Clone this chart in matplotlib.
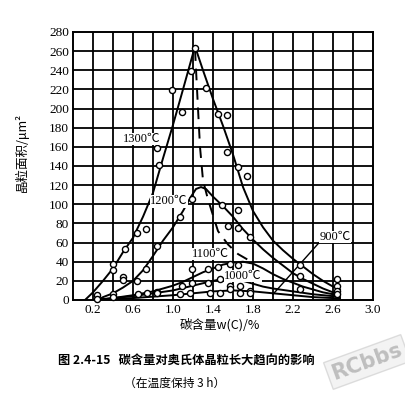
import matplotlib
matplotlib.use("Agg")
import matplotlib.pyplot as plt

# ---- data ----
x_1300 = [0.12, 0.2, 0.3, 0.4, 0.5, 0.6, 0.7, 0.8, 0.9, 1.0, 1.1, 1.22,
          1.3, 1.4, 1.5, 1.6, 1.7, 1.8, 1.9, 2.0, 2.1, 2.2, 2.3, 2.4, 2.5, 2.6, 2.67]
y_1300 = [0, 8, 20, 33, 50, 65, 87, 112, 148, 183, 220, 265,
          240, 210, 182, 152, 118, 93, 76, 62, 52, 43, 35, 27, 20, 14, 11]

x_1200 = [0.25, 0.3, 0.4, 0.5, 0.6, 0.7, 0.8, 0.9, 1.0, 1.1, 1.18, 1.23, 1.28, 1.33,
          1.4, 1.5, 1.6, 1.7, 1.8, 1.9, 2.0, 2.1, 2.2, 2.3, 2.4, 2.5, 2.6, 2.67]
y_1200 = [0, 3, 7, 13, 20, 31, 46, 62, 76, 93, 108, 116, 118, 116,
          108, 98, 87, 74, 63, 53, 44, 36, 28, 22, 17, 12, 8, 6]

x_1100 = [0.25, 0.4, 0.6, 0.8, 1.0, 1.1, 1.2, 1.3, 1.4, 1.5, 1.6, 1.7, 1.8,
          1.9, 2.0, 2.1, 2.2, 2.3, 2.4, 2.5, 2.6, 2.67]
y_1100 = [0, 2, 5, 9, 15, 19, 24, 29, 33, 37, 39, 40, 38,
          33, 27, 22, 18, 14, 11, 8, 6, 5]

x_1000 = [0.2, 0.4, 0.6, 0.8, 1.0, 1.2, 1.4, 1.5, 1.6, 1.7, 1.8, 1.9, 2.0,
          2.2, 2.4, 2.6, 2.67]
y_1000 = [0, 2, 4, 7, 10, 15, 20, 22, 22, 20, 17, 14, 12,
          9, 6, 4, 3]

x_900 = [0.2, 0.6, 1.0, 1.2, 1.4, 1.6, 1.8, 2.0, 2.2, 2.4, 2.6, 2.67]
y_900 = [0, 2, 5, 7, 9, 10, 9, 7, 5, 3, 2, 1.5]

# dashed trend line through the maxima
x_peak = [1.22, 1.25, 1.27, 1.30, 1.35, 1.45, 1.55, 1.65, 1.75]
y_peak = [262, 200, 160, 125, 105, 72, 58, 48, 42]

# measured points (hollow circles)
pts_x = [0.24, 0.4, 0.4, 0.52, 0.64, 0.73, 0.84, 0.86, 0.99, 1.09, 1.18, 1.22,
         1.33, 1.45, 1.54, 1.54, 1.65, 1.74, 2.27, 2.64,
         0.4, 0.5, 0.5, 0.64, 0.73, 0.84, 1.07, 1.19, 1.49, 1.55, 1.65, 1.65,
         1.77, 2.27, 2.64,
         1.19, 1.35, 1.45, 1.57, 1.65, 1.09, 1.19, 0.84,
         1.35, 1.47, 1.57, 1.67, 1.77, 2.27, 2.64,
         0.65, 0.74, 0.84, 1.07, 1.17, 1.37, 1.47, 1.57, 1.67, 1.77, 2.64, 0.24, 0.4]
pts_y = [5, 38, 31, 53, 70, 74, 159, 141, 219, 196, 239, 263,
         221, 194, 193, 155, 139, 130, 37, 22,
         6, 24, 21, 20, 32, 56, 87, 106, 99, 77, 75, 94,
         66, 25, 15,
         32, 32, 35, 38, 37, 15, 18, 8,
         18, 22, 15, 15, 9, 11, 9,
         6, 7, 7, 6, 7, 7, 7, 11, 7, 7, 6, 1, 3]

labels = ["1300℃", "1200℃", "1100℃", "1000℃", "900℃"]
label_x = [0.69, 0.96, 1.37, 1.70, 2.62]
label_y = [168, 103, 48, 25, 66]

x_ticks = [0.2, 0.6, 1.0, 1.4, 1.8, 2.2, 2.6, 3.0]
y_ticks = list(range(0, 281, 20))

# ---- figure ----
serif = ["Liberation Serif", "Noto Sans CJK SC", "DejaVu Sans"]
cjk = ["Noto Sans CJK SC", "DejaVu Sans"]

fig = plt.figure(figsize=(4.06, 4.04), dpi=100)
ax = fig.add_axes([73 / 406, (404 - 300) / 404, 300 / 406, 268 / 404])
ax.set_xlim(0, 3.0)
ax.set_ylim(0, 280)

# grid
for gx in [i * 0.2 for i in range(1, 15)]:
    ax.axvline(gx, color="black", lw=1.3, zorder=1)
for gy in range(20, 280, 20):
    ax.axhline(gy, color="black", lw=1.3, zorder=1)
for s in ax.spines.values():
    s.set_linewidth(1.4)

ax.set_xticks(x_ticks)
ax.set_xticklabels([f"{t:.1f}" for t in x_ticks], family=serif, fontsize=9.5)
ax.set_yticks(y_ticks)
ax.set_yticklabels([str(t) for t in y_ticks], family=serif, fontsize=9.5)
ax.tick_params(length=0, pad=3)

lw = 1.4
for xs, ys in [(x_1300, y_1300), (x_1200, y_1200), (x_1100, y_1100),
               (x_1000, y_1000), (x_900, y_900)]:
    ax.plot(xs, ys, color="black", lw=lw, zorder=3)
ax.plot(x_peak, y_peak, color="black", lw=1.4, ls=(0, (6, 4)), zorder=3)

ax.plot(pts_x, pts_y, ls="none", marker="o", ms=4.4, mfc="white",
        mec="black", mew=1.0, zorder=4, clip_on=False)

for t, lx, ly in zip(labels, label_x, label_y):
    ax.text(lx, ly, t, family=serif, fontsize=9, ha="center", va="center",
            zorder=5, bbox=dict(fc="white", ec="none", pad=0.2))

# leader for 900℃
ax.plot([2.47, 2.0], [61, 6], color="black", lw=1.0, zorder=3)

# axis titles
fig.text(22 / 406, 1 - 152 / 404, "晶粒面积/μm²", rotation=90, family=cjk,
         fontsize=9, ha="center", va="center")
fig.text(220 / 406, 1 - 325 / 404, "碳含量w(C)/%", family=cjk,
         fontsize=9, ha="center", va="center")

# caption
fig.text(186 / 406, 1 - 361 / 404, "图 2.4-15   碳含量对奥氏体晶粒长大趋向的影响",
         family=cjk, fontsize=8.8, fontweight="bold", ha="center", va="center")
fig.text(175 / 406, 1 - 383 / 404, "（在温度保持 3 h）", family=cjk,
         fontsize=8.5, ha="center", va="center")

# watermark
fig.text(367 / 406, 1 - 362 / 404, "RCbbs", family=["DejaVu Sans"], fontsize=15,
         fontweight="bold", color="#a8a8a8", rotation=20, ha="center", va="center",
         alpha=0.7,
         bbox=dict(fc="#eeeeee", ec="#d0d0d0", pad=3, alpha=0.7))

fig.savefig("out.png", dpi=100)
